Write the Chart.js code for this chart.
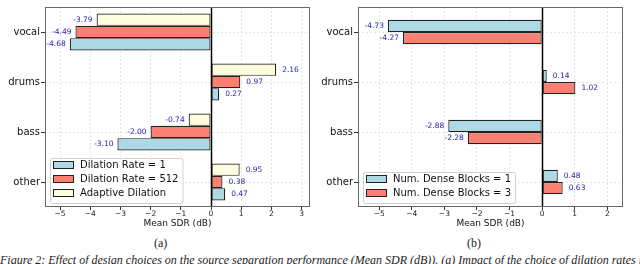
<!DOCTYPE html>
<html>
<head>
<meta charset="utf-8">
<script src="https://cdn.jsdelivr.net/npm/chart.js@4/dist/chart.umd.min.js"></script>
<style>
  body { margin: 0; background: #fff; width: 640px; height: 264px; overflow: hidden; position: relative; }
  canvas { position: absolute; top: 0; }
  #chartA { left: 0; }
  #chartB { left: 320px; }
  .sub { position: absolute; top: 236px; font: 12px 'Liberation Serif', serif; color: #222; }
  .caption { position: absolute; left: 0; top: 253px; width: 700px; white-space: nowrap;
             font: italic 12px 'Liberation Serif', serif; color: #222; }
</style>
</head>
<body>
<canvas id="chartA" width="320" height="229"></canvas>
<canvas id="chartB" width="320" height="229"></canvas>
<div class="sub" style="left:154px">(a)</div>
<div class="sub" style="left:467px">(b)</div>
<div class="caption">Figure 2: Effect of design choices on the source separation performance (Mean SDR (dB)). (a) Impact of the choice of dilation rates in</div>
<script>
    'use strict';

    // Data
    const categories = ['vocal', 'drums', 'bass', 'other'];
    const dilationRate1 = [-4.68, 0.27, -3.10, 0.47];
    const dilationRate512 = [-4.49, 0.97, -2.00, 0.38];
    const adaptiveDilation = [-3.79, 2.16, -0.74, 0.95];
    const denseBlocks1 = [-4.73, 0.14, -2.88, 0.48];
    const denseBlocks3 = [-4.27, 1.02, -2.28, 0.63];
    const ticksA = [-5, -4, -3, -2, -1, 0, 1, 2, 3];
    const ticksB = [-5, -4, -3, -2, -1, 0, 1, 2];

    const BLUE = '#add8e6';
    const RED = '#fa8072';
    const YELLOW = '#ffffe0';
    const FONT = '"DejaVu Sans", sans-serif';

    /**
     * Zero line, frame, value labels and an in-plot legend
     */
    const figurePlugin = {
        id: 'figure',
        afterDatasetsDraw(chart) {
            const ctx = chart.ctx;
            const area = chart.chartArea;
            const x = chart.scales.x;
            ctx.save();

            const x0 = Math.round(x.getPixelForValue(0)) + 0.5;
            ctx.strokeStyle = '#000';
            ctx.lineWidth = 1.5;
            ctx.beginPath();
            ctx.moveTo(x0, area.top);
            ctx.lineTo(x0, area.bottom);
            ctx.stroke();

            ctx.strokeStyle = '#666';
            ctx.lineWidth = 1;
            ctx.strokeRect(area.left + 0.5, area.top + 0.5, area.width - 1, area.height - 1);

            ctx.font = '7.5px ' + FONT;
            ctx.fillStyle = '#1f1fa8';
            ctx.textBaseline = 'middle';
            chart.data.datasets.forEach(function(ds, i) {
                chart.getDatasetMeta(i).data.forEach(function(bar, j) {
                    const v = ds.data[j];
                    ctx.textAlign = v < 0 ? 'right' : 'left';
                    ctx.fillText(v.toFixed(2), v < 0 ? bar.x - 4 : bar.x + 6, bar.y);
                });
            });
            ctx.restore();
        },
        afterDraw(chart, args, opts) {
            const ctx = chart.ctx;
            const area = chart.chartArea;
            let items = chart.data.datasets.slice();
            if (opts.reverse) items = items.reverse();

            ctx.save();
            ctx.font = '10px ' + FONT;
            const textW = Math.max.apply(null, items.map(d => ctx.measureText(d.label).width));
            const left = area.left + 5;
            const w = 3 + 20 + 7 + textW + 4;
            const h = items.length * 14 + 3;
            const top = area.bottom - 4 - h;

            ctx.fillStyle = 'rgba(255,255,255,0.9)';
            ctx.strokeStyle = '#d0d0d0';
            ctx.lineWidth = 1;
            ctx.beginPath();
            ctx.roundRect(left + 0.5, top + 0.5, w, h, 2);
            ctx.fill();
            ctx.stroke();

            ctx.textBaseline = 'middle';
            ctx.textAlign = 'left';
            items.forEach(function(d, i) {
                const cy = top + 7 + i * 14;
                ctx.fillStyle = d.backgroundColor;
                ctx.fillRect(left + 3.5, cy - 3.5, 20, 7);
                ctx.strokeStyle = '#222';
                ctx.strokeRect(left + 3.5, cy - 3.5, 20, 7);
                ctx.fillStyle = '#111';
                ctx.fillText(d.label, left + 30, cy + 0.5);
            });
            ctx.restore();
        }
    };

    function formatTick(v) {
        return v < 0 ? '\u2212' + Math.abs(v) : String(v);
    }

    function makeDataset(label, data, color) {
        return {
            label: label,
            data: data,
            backgroundColor: color,
            borderColor: '#222',
            borderWidth: 1.2,
            borderSkipped: false
        };
    }

    function makeChart(id, datasets, cfg) {
        return new Chart(document.getElementById(id), {
            type: 'bar',
            data: { labels: categories, datasets: datasets },
            options: {
                indexAxis: 'y',
                responsive: false,
                animation: false,
                categoryPercentage: cfg.catPct,
                barPercentage: 1,
                layout: { padding: { top: 1, right: cfg.padRight, left: 0, bottom: 0 } },
                plugins: {
                    legend: { display: false },
                    tooltip: { enabled: false },
                    figure: { reverse: cfg.reverseLegend }
                },
                scales: {
                    x: {
                        type: 'linear',
                        min: cfg.xMin,
                        max: cfg.xMax,
                        afterBuildTicks: function(axis) {
                            axis.ticks = cfg.ticks.map(v => ({ value: v }));
                        },
                        afterFit: function(axis) { axis.height = 22; },
                        grid: {
                            color: '#e4e4e4',
                            tickColor: '#333',
                            tickLength: 3,
                            tickBorderDash: []
                        },
                        border: { display: false, dash: [2, 2] },
                        ticks: {
                            padding: 0,
                            color: '#222',
                            font: { family: FONT, size: 7.5 },
                            callback: formatTick
                        },
                        title: {
                            display: true,
                            text: 'Mean SDR (dB)',
                            color: '#111',
                            padding: 0,
                            font: { family: FONT, size: 9 }
                        }
                    },
                    y: {
                        type: 'category',
                        offset: true,
                        afterFit: function(axis) { axis.width = cfg.yWidth; },
                        grid: {
                            offset: false,
                            color: '#e4e4e4',
                            tickColor: '#333',
                            tickLength: 4,
                            tickBorderDash: []
                        },
                        border: { display: false, dash: [2, 2] },
                        ticks: {
                            padding: 1,
                            color: '#111',
                            font: { family: FONT, size: 10 }
                        }
                    }
                }
            },
            plugins: [figurePlugin]
        });
    }

    // (a) dilation rates: matplotlib stacks first series at the bottom, so list top-down
    makeChart('chartA', [
        makeDataset('Adaptive Dilation', adaptiveDilation, YELLOW),
        makeDataset('Dilation Rate = 512', dilationRate512, RED),
        makeDataset('Dilation Rate = 1', dilationRate1, BLUE)
    ], { xMin: -5.5, xMax: 3.28, ticks: ticksA, yWidth: 45, padRight: 10, catPct: 0.74, reverseLegend: true });

    // (b) number of dense blocks
    makeChart('chartB', [
        makeDataset('Num. Dense Blocks = 1', denseBlocks1, BLUE),
        makeDataset('Num. Dense Blocks = 3', denseBlocks3, RED)
    ], { xMin: -5.65, xMax: 2.48, ticks: ticksB, yWidth: 38, padRight: 17, catPct: 0.49, reverseLegend: false });
</script>
</body>
</html>
